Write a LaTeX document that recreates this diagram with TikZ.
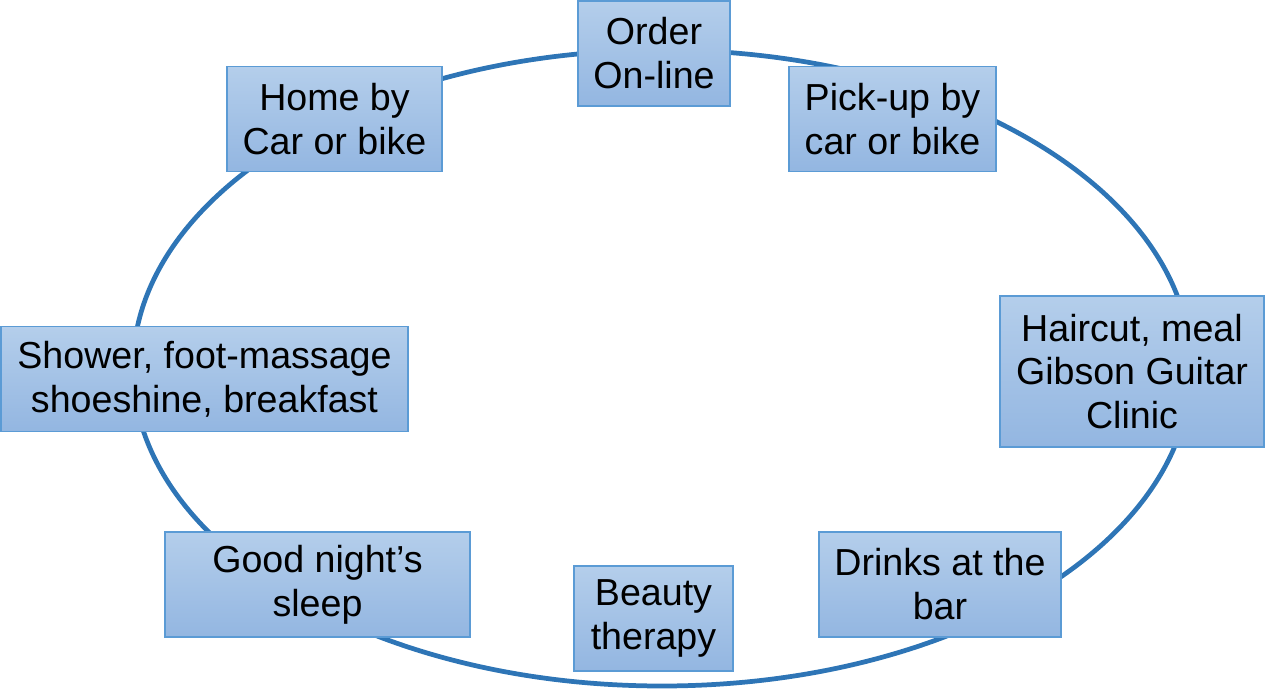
\documentclass[tikz,border=0pt]{standalone}
\usepackage{fontspec}
\setmainfont{Liberation Sans}
\usetikzlibrary{positioning}
\definecolor{ringblue}{HTML}{2E75B6}
\definecolor{boxedge}{HTML}{5B9BD5}
\definecolor{boxtop}{HTML}{B4CEEB}
\definecolor{boxbot}{HTML}{93B6E1}
\tikzset{
  stage/.style = {rectangle, draw=boxedge, line width=0.9pt,
                  top color=boxtop, bottom color=boxbot,
                  align=center, inner sep=2pt, minimum height=2.1cm,
                  font=\fontsize{21.4}{25}\selectfont},
  ring/.style  = {draw=ringblue, line width=2.7pt},
}

\begin{document}
\begin{tikzpicture}
\useasboundingbox (0,0) rectangle (25.3,-13.8);

% The loop behind the stages
\draw [ring] (13.24,-7.36) ellipse [x radius=10.58cm, y radius=6.36cm];

% Stages round the loop, clockwise from the top
\node (order)  [stage, minimum width=3.04cm] at (13.08,-1.07) {Order\\On-line};
\node (pickup) [stage, minimum width=4.14cm] at (17.85,-2.38) {Pick-up by\\car or bike};
\node (clinic) [stage, minimum width=5.28cm, minimum height=3.02cm] at (22.64,-7.43) {Haircut, meal\\Gibson Guitar\\Clinic};
\node (drinks) [stage, minimum width=4.84cm] at (18.80,-11.69) {Drinks at the\\bar};
\node (beauty) [stage, minimum width=3.18cm] at (13.07,-12.37) {Beauty\\therapy};
\node (sleep)  [stage, minimum width=6.10cm] at (6.35,-11.69) {Good night’s\\sleep};
\node (shower) [stage, minimum width=8.14cm] at (4.09,-7.58) {Shower, foot-massage\\shoeshine, breakfast};
\node (home)   [stage, minimum width=4.30cm] at (6.69,-2.38) {Home by\\Car or bike};

\end{tikzpicture}
\end{document}
